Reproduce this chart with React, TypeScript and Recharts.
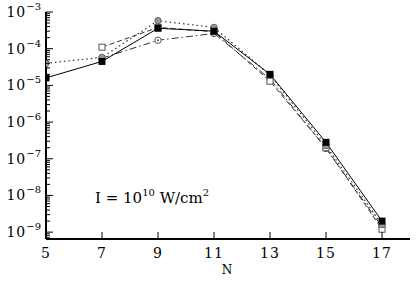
import { LineChart, Line, XAxis, YAxis } from 'recharts'

document.body.style.margin = '0'

// harmonic order N and yields for the four curves
const N_VALUES = [5, 7, 9, 11, 13, 15, 17]
const solidSquares = [1.6e-5, 4.5e-5, 3.6e-4, 3.0e-4, 2.0e-5, 2.8e-7, 2.0e-9]
const dottedCircles = [4.0e-5, 5.8e-5, 5.8e-4, 3.8e-4, 1.9e-5, 2.3e-7, 1.6e-9]
const dashedSquares = [null, 1.1e-4, 3.8e-4, 2.9e-4, 1.3e-5, 2.0e-7, 1.2e-9]
const dashDotCircles = [null, 5.5e-5, 1.7e-4, 2.6e-4, 1.5e-5, 1.9e-7, 1.4e-9]

const X_TICKS = [5, 7, 9, 11, 13, 15, 17]
const Y_MAJOR = [1e-9, 1e-8, 1e-7, 1e-6, 1e-5, 1e-4, 1e-3]

const W = 420
const H = 284
const PLOT_LEFT = 46
const PLOT_RIGHT = 410
const PLOT_TOP = 12
const PLOT_BOTTOM = 239
const FONT = '"DejaVu Serif", serif'

const yMinor: number[] = []
Y_MAJOR.forEach(m => {
  for (let k = 2; k <= 9; k++) {
    const v = m * k
    if (v < 1e-3) yMinor.push(v)
  }
})
yMinor.push(7e-10, 8e-10, 9e-10)
const Y_TICKS = [...Y_MAJOR, ...yMinor].sort((a, b) => a - b)

const data = N_VALUES.map((n, i) => ({
  n,
  solid: solidSquares[i],
  dotted: dottedCircles[i],
  dashed: dashedSquares[i],
  dashDot: dashDotCircles[i],
}))

const isMajor = (v: number) => Math.abs(Math.log10(v) - Math.round(Math.log10(v))) < 1e-6

const LeftTick = (props: any) => {
  const { y, payload } = props
  const v = payload.value
  const major = isMajor(v)
  const exp = Math.round(Math.log10(v))
  return (
    <g>
      <line x1={PLOT_LEFT} x2={PLOT_LEFT + (major ? 7 : 4)} y1={y} y2={y} stroke="#000" strokeWidth={1} />
      {major && (
        <text x={PLOT_LEFT - 5} y={y + 5} textAnchor="end" fontFamily={FONT} fontSize={14} fill="#000" letterSpacing={1}>
          10<tspan dy={-7} fontSize={10} letterSpacing={0}>{'\u2212' + -exp}</tspan>
        </text>
      )}
    </g>
  )
}

const RightTick = (props: any) => {
  const { y, payload } = props
  const major = isMajor(payload.value)
  return <line x1={PLOT_RIGHT} x2={PLOT_RIGHT - (major ? 7 : 4)} y1={y} y2={y} stroke="#000" strokeWidth={1} />
}

const BottomTick = (props: any) => {
  const { x, payload } = props
  return (
    <g>
      <line x1={x} x2={x} y1={PLOT_BOTTOM} y2={PLOT_BOTTOM - 7} stroke="#000" strokeWidth={1} />
      <text x={x} y={PLOT_BOTTOM + 19} textAnchor="middle" fontFamily={FONT} fontSize={14} fill="#000" letterSpacing={1}>
        {payload.value}
      </text>
    </g>
  )
}

const TopTick = (props: any) => {
  const { x } = props
  return <line x1={x} x2={x} y1={PLOT_TOP} y2={PLOT_TOP + 7} stroke="#000" strokeWidth={1} />
}

const FilledSquare = (props: any) => {
  const { cx, cy, index } = props
  if (cx == null || cy == null) return <g key={index} />
  return <rect key={index} x={cx - 3.5} y={cy - 3.5} width={7} height={7} fill="#000" />
}

const OpenSquare = (props: any) => {
  const { cx, cy, index } = props
  if (cx == null || cy == null) return <g key={index} />
  return <rect key={index} x={cx - 3} y={cy - 3} width={6} height={6} fill="#fff" stroke="#555" strokeWidth={1} />
}

const GrayCircle = (props: any) => {
  const { cx, cy, index } = props
  if (cx == null || cy == null) return <g key={index} />
  return <circle key={index} cx={cx} cy={cy} r={3.2} fill="#999" stroke="#666" strokeWidth={1} />
}

const DotCircle = (props: any) => {
  const { cx, cy, index } = props
  if (cx == null || cy == null) return <g key={index} />
  return (
    <g key={index}>
      <circle cx={cx} cy={cy} r={3.2} fill="#fff" stroke="#555" strokeWidth={1} />
      <circle cx={cx} cy={cy} r={1} fill="#555" />
    </g>
  )
}

export default function App() {
  return (
    <div style={{ position: 'relative', width: W, height: H, background: '#fff' }}>
      <LineChart
        width={W}
        height={H}
        data={data}
        margin={{ top: PLOT_TOP, right: W - PLOT_RIGHT, bottom: 15, left: 0 }}
      >
        <XAxis
          xAxisId="bottom"
          dataKey="n"
          type="number"
          domain={[5, 18]}
          ticks={X_TICKS}
          tick={<BottomTick />}
          tickLine={false}
          axisLine={{ stroke: '#000', strokeWidth: 2 }}
          height={30}
          allowDataOverflow
        />
        <XAxis
          xAxisId="top"
          orientation="top"
          dataKey="n"
          type="number"
          domain={[5, 18]}
          ticks={X_TICKS}
          tick={<TopTick />}
          tickLine={false}
          axisLine={{ stroke: '#000', strokeWidth: 2 }}
          height={0}
          allowDataOverflow
        />
        <YAxis
          yAxisId="left"
          scale="log"
          type="number"
          domain={[6.5e-10, 1e-3]}
          ticks={Y_TICKS}
          interval={0}
          tick={<LeftTick />}
          tickLine={false}
          axisLine={{ stroke: '#000', strokeWidth: 2 }}
          width={PLOT_LEFT}
          allowDataOverflow
        />
        <YAxis
          yAxisId="right"
          orientation="right"
          scale="log"
          type="number"
          domain={[6.5e-10, 1e-3]}
          ticks={Y_TICKS}
          interval={0}
          tick={<RightTick />}
          tickLine={false}
          axisLine={{ stroke: '#000', strokeWidth: 2 }}
          width={0}
          allowDataOverflow
        />
        <Line
          xAxisId="bottom"
          yAxisId="left"
          dataKey="dashDot"
          stroke="#333"
          strokeWidth={1}
          strokeDasharray="7 3 1.5 3"
          dot={<DotCircle />}
          connectNulls
          isAnimationActive={false}
        />
        <Line
          xAxisId="bottom"
          yAxisId="left"
          dataKey="dashed"
          stroke="#333"
          strokeWidth={1}
          strokeDasharray="5 3"
          dot={<OpenSquare />}
          connectNulls
          isAnimationActive={false}
        />
        <Line
          xAxisId="bottom"
          yAxisId="left"
          dataKey="dotted"
          stroke="#333"
          strokeWidth={1.2}
          strokeDasharray="1.5 3"
          dot={<GrayCircle />}
          connectNulls
          isAnimationActive={false}
        />
        <Line
          xAxisId="bottom"
          yAxisId="left"
          dataKey="solid"
          stroke="#000"
          strokeWidth={1}
          dot={<FilledSquare />}
          connectNulls
          isAnimationActive={false}
        />
      </LineChart>
      <svg width={W} height={H} style={{ position: 'absolute', left: 0, top: 0, pointerEvents: 'none' }}>
        <text x={95} y={203} fontFamily={FONT} fontSize={15} fill="#000">
          I = 10<tspan dy={-7} fontSize={10}>10</tspan>
          <tspan dy={7}> W/cm</tspan>
          <tspan dy={-7} fontSize={10}>2</tspan>
        </text>
        <text x={227} y={274} textAnchor="middle" fontFamily={FONT} fontSize={12} fill="#000">
          N
        </text>
      </svg>
    </div>
  )
}
